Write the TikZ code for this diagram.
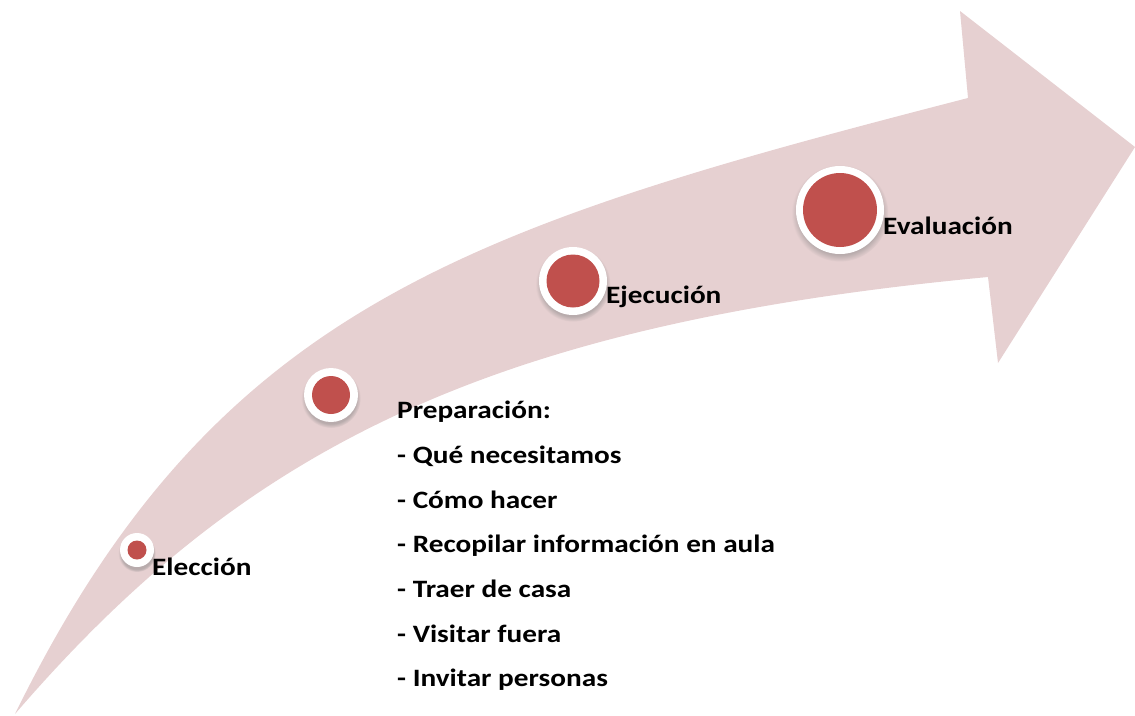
\documentclass[tikz,border=0pt]{standalone}
\usepackage{fontspec}
\setmainfont{Carlito}[FakeStretch=1.17]
\usetikzlibrary{shadows}
\definecolor{band}{RGB}{230,208,209}
\definecolor{dotred}{RGB}{192,80,77}
\begin{document}
\begin{tikzpicture}[x=1pt,y=-1pt,
  ring/.style={circle,fill=white,inner sep=0pt,outer sep=0pt,
    circular drop shadow={shadow xshift=0pt,shadow yshift=-3pt,opacity=.45}},
  core/.style={circle,fill=dotred,inner sep=0pt,outer sep=0pt},
  label/.style={anchor=base west,inner sep=0pt,font=\fontsize{25}{30}\selectfont\bfseries}]
\useasboundingbox (0,0) rectangle (1135,715);
% curved arrow
\fill[band] (15,714) .. controls (215,306) and (468,227) .. (968,98)
  -- (960,11) -- (1135,147) -- (998,363) -- (988,277)
  .. controls (488,324) and (244,448) .. (15,714) -- cycle;
% milestones
\node[ring,minimum size=34pt] (r1) at (137,550) {};
\node[core,minimum size=19pt] (c1) at (r1) {};
\node[ring,minimum size=54pt] (r2) at (331,395) {};
\node[core,minimum size=38pt] (c2) at (r2) {};
\node[ring,minimum size=68pt] (r3) at (573,281) {};
\node[core,minimum size=53pt] (c3) at (r3) {};
\node[ring,minimum size=88pt] (r4) at (840,210) {};
\node[core,minimum size=74pt] (c4) at (r4) {};
% labels
\node[label] (t1) at (152,575) {Elección};
\node[label] (t3) at (606,303) {Ejecución};
\node[label] (t4) at (883,234) {Evaluación};
\node[label,align=left,font=\fontsize{25}{44.7}\selectfont\bfseries,anchor=north west] (t2) at (397,401)
  {Preparación:\\- Qué necesitamos\\- Cómo hacer\\- Recopilar información en aula\\- Traer de casa\\- Visitar fuera\\- Invitar personas};
\end{tikzpicture}
\end{document}
